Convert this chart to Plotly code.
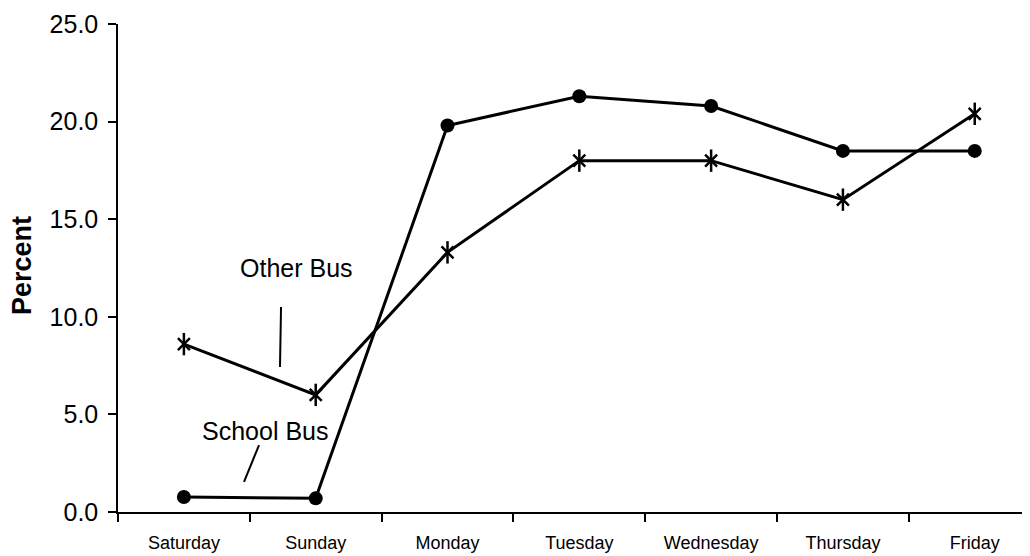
import plotly.graph_objects as go

days = ["Saturday", "Sunday", "Monday", "Tuesday", "Wednesday", "Thursday", "Friday"]
school_bus = [0.77, 0.7, 19.8, 21.3, 20.8, 18.5, 18.5]
other_bus = [8.6, 6.0, 13.3, 18.0, 18.0, 16.0, 20.4]
y_ticks = [0, 5, 10, 15, 20, 25]
y_tick_labels = ["0.0", "5.0", "10.0", "15.0", "20.0", "25.0"]

FONT = "Arial, Liberation Sans, sans-serif"

fig = go.Figure()
fig.add_trace(go.Scatter(
    x=days, y=school_bus, mode="lines+markers", name="School Bus",
    line=dict(color="black", width=3),
    marker=dict(symbol="circle", size=14, color="black"),
    showlegend=False, cliponaxis=False))
fig.add_trace(go.Scatter(
    x=days, y=other_bus, mode="lines+markers", name="Other Bus",
    line=dict(color="black", width=3),
    marker=dict(symbol="x-thin", size=12, color="black",
                line=dict(color="black", width=2.5)),
    showlegend=False, cliponaxis=False))
fig.add_trace(go.Scatter(
    x=days, y=other_bus, mode="markers", name="Other Bus",
    marker=dict(symbol="line-ns", size=16, color="black",
                line=dict(color="black", width=2.5)),
    showlegend=False, cliponaxis=False, hoverinfo="skip"))

# label annotations with pointer lines (category index coordinates)
fig.add_annotation(x=0.851, y=12.5, text="Other Bus", showarrow=False,
                   font=dict(family=FONT, size=25, color="black"))
fig.add_annotation(x=0.615, y=4.15, text="School Bus", showarrow=False,
                   font=dict(family=FONT, size=25, color="black"))
fig.add_shape(type="line", x0=0.737, y0=10.50, x1=0.729, y1=7.43,
              line=dict(color="black", width=2))
fig.add_shape(type="line", x0=0.570, y0=3.43, x1=0.456, y1=1.54,
              line=dict(color="black", width=2))

# y-axis title
fig.add_annotation(xref="paper", yref="paper", x=-0.1043, y=0.504,
                   text="<b>Percent</b>", textangle=-90, showarrow=False,
                   xanchor="center", yanchor="middle",
                   font=dict(family=FONT, size=27, color="black"))

fig.update_layout(
    width=1030, height=556,
    margin=dict(l=110, r=0, t=16, b=52, autoexpand=False),
    paper_bgcolor="white", plot_bgcolor="white",
    font=dict(family=FONT, color="black"),
)
fig.update_xaxes(
    type="category", categoryorder="array", categoryarray=days,
    range=[-0.5, 6.48], tickson="boundaries",
    showline=True, linecolor="black", linewidth=1.5,
    ticks="outside", ticklen=8, tickcolor="black", tickwidth=1.5,
    ticklabelstandoff=14,
    showgrid=False, zeroline=False, automargin=False,
    tickfont=dict(family=FONT, size=18, color="black"),
)
fig.update_yaxes(
    tickmode="array", tickvals=y_ticks, ticktext=y_tick_labels,
    range=[0, 25],
    showline=True, linecolor="black", linewidth=1.5,
    ticks="outside", ticklen=8, tickcolor="black", tickwidth=1.5,
    ticklabelstandoff=5,
    showgrid=False, zeroline=False, automargin=False,
    tickfont=dict(family=FONT, size=25, color="black"),
)

fig.write_html("out.html")
